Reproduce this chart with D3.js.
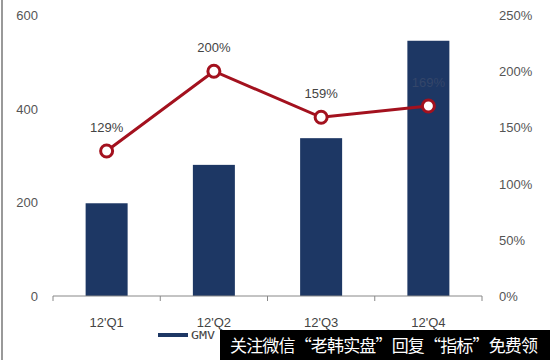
<!DOCTYPE html>
<html><head><meta charset="utf-8">
<script src="https://cdn.jsdelivr.net/npm/d3@7"></script>
<style>body{margin:0;background:#fff}svg{display:block}</style>
</head><body>
<svg id="c" width="550" height="360"></svg>
<script>
const categories = ["12'Q1","12'Q2","12'Q3","12'Q4"];
const gmv = [198, 280, 337, 545];
const growth = [129, 200, 159, 169];
const growthLabels = ["129%","200%","159%","169%"];
const leftTicks = [0, 200, 400, 600];
const rightTicks = [0, 50, 100, 150, 200, 250];
const legendLabel = "GMV";
const watermark = "关注微信“老韩实盘”回复“指标”免费领";

const svg = d3.select("#c");
const x = d3.scaleBand().domain(categories).range([53, 482]).paddingInner(0).paddingOuter(0);
const yL = d3.scaleLinear().domain([0, 600]).range([296, 15]);
const yR = d3.scaleLinear().domain([0, 250]).range([296, 15]);
const font = "Arial, 'Liberation Sans', sans-serif";

// left border
svg.append("line").attr("x1",2).attr("x2",2).attr("y1",0).attr("y2",360)
  .attr("stroke","#777").attr("stroke-width",1.5);

// bars
const bw = 42;
svg.selectAll("rect.bar").data(gmv).enter().append("rect")
  .attr("x",(d,i)=>x(categories[i])+x.bandwidth()/2-bw/2)
  .attr("y",d=>yL(d)).attr("width",bw).attr("height",d=>yL(0)-yL(d))
  .attr("fill","#1d3764");

// x axis
const xa = svg.append("g").attr("transform","translate(0,296)");
xa.append("line").attr("x1",53).attr("x2",482).attr("stroke","#888").attr("stroke-width",1);
const tickXs = categories.map(c=>x(c)).concat([x.range()[1]]);
xa.selectAll("line.t").data(tickXs).enter().append("line")
  .attr("x1",d=>d).attr("x2",d=>d).attr("y1",0).attr("y2",5).attr("stroke","#888");
svg.selectAll("text.xl").data(categories).enter().append("text")
  .attr("x",d=>x(d)+x.bandwidth()/2).attr("y",327).attr("text-anchor","middle")
  .attr("font-family",font).attr("font-size",13).attr("fill","#444").text(d=>d);

// left axis labels
svg.selectAll("text.yl").data(leftTicks).enter().append("text")
  .attr("x",38).attr("y",d=>yL(d)+5).attr("text-anchor","end")
  .attr("font-family",font).attr("font-size",13).attr("fill","#555").text(d=>d);

// right axis labels
svg.selectAll("text.yr").data(rightTicks).enter().append("text")
  .attr("x",499).attr("y",d=>yR(d)+5).attr("text-anchor","start")
  .attr("font-family",font).attr("font-size",13).attr("fill","#555").text(d=>d+"%");

// line
const cx = i => x(categories[i]) + x.bandwidth()/2;
const line = d3.line().x((d,i)=>cx(i)).y(d=>yR(d));
svg.append("path").datum(growth).attr("d",line).attr("fill","none")
  .attr("stroke","#a3111e").attr("stroke-width",3);
svg.selectAll("circle.m").data(growth).enter().append("circle")
  .attr("cx",(d,i)=>cx(i)).attr("cy",d=>yR(d)).attr("r",6)
  .attr("fill","#fff").attr("stroke","#a3111e").attr("stroke-width",3);

// point labels
svg.selectAll("text.pl").data(growth).enter().append("text")
  .attr("x",(d,i)=>cx(i)).attr("y",d=>yR(d)-19).attr("text-anchor","middle")
  .attr("font-family",font).attr("font-size",13)
  .attr("fill",(d,i)=>i===3?"#34466a":"#444").text((d,i)=>growthLabels[i]);

// legend
svg.append("line").attr("x1",158).attr("x2",188).attr("y1",335).attr("y2",335)
  .attr("stroke","#1d3764").attr("stroke-width",4);
svg.append("text").attr("x",191).attr("y",339).attr("font-family","'DejaVu Sans Mono', monospace")
  .attr("font-size",11).attr("fill","#444").attr("textLength",24)
  .attr("lengthAdjust","spacingAndGlyphs").text(legendLabel);

// watermark
svg.append("rect").attr("x",220).attr("y",330).attr("width",330).attr("height",30).attr("fill","#000");
svg.append("text").attr("x",230).attr("y",352).attr("font-family","'Noto Sans CJK SC', sans-serif")
  .attr("font-size",17).attr("fill","#fff").attr("textLength",308).text(watermark);
</script>
</body></html>
